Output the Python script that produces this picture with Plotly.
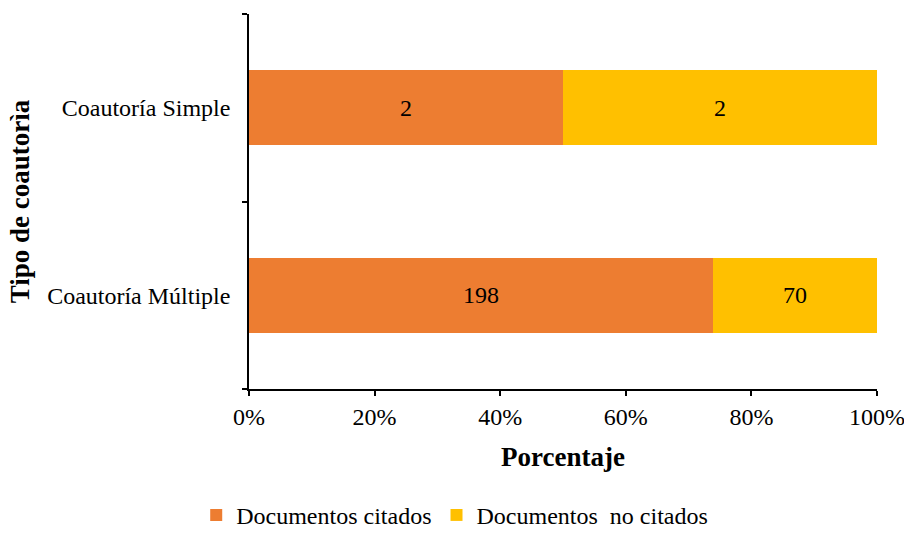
import plotly.graph_objects as go

# Co-authorship types (bottom to top) and document counts
categories = ["Coautoría Múltiple", "Coautoría Simple"]
citados = [198, 2]
no_citados = [70, 2]
x_ticks = [0, 20, 40, 60, 80, 100]
x_tick_labels = [f"{v}%" for v in x_ticks]

serif = "Liberation Serif"
fs = 24

fig = go.Figure()
fig.add_trace(go.Bar(
    y=categories, x=citados, orientation="h", name="Documentos citados",
    marker=dict(color="#ED7D31", line=dict(width=0)),
    text=citados, textposition="inside", insidetextanchor="middle",
    textfont=dict(family=serif, size=fs, color="black"),
    constraintext="none", hoverinfo="skip",
))
fig.add_trace(go.Bar(
    y=categories, x=no_citados, orientation="h", name="Documentos  no citados",
    marker=dict(color="#FFC000", line=dict(width=0)),
    text=no_citados, textposition="inside", insidetextanchor="middle",
    textfont=dict(family=serif, size=fs, color="black"),
    constraintext="none", hoverinfo="skip",
))

fig.update_layout(
    barmode="stack", barnorm="percent", bargap=0.6,
    width=904, height=534,
    margin=dict(l=249, r=27, t=14, b=145, autoexpand=False),
    plot_bgcolor="white", paper_bgcolor="white",
    font=dict(family=serif, size=fs, color="black"),
    showlegend=True,
    legend=dict(
        orientation="h", xref="container", yref="container",
        x=0.503, y=0.035, xanchor="center", yanchor="middle",
        font=dict(family=serif, size=fs, color="black"),
        itemwidth=30, traceorder="normal",
    ),
    xaxis=dict(
        range=[0, 100], tickvals=x_ticks, ticktext=x_tick_labels,
        ticklabeloverflow="allow",
        showgrid=False, zeroline=False,
        showline=True, linecolor="black", linewidth=1.5,
        ticks="outside", ticklen=5, tickcolor="black", tickwidth=1.5,
        tickfont=dict(family=serif, size=fs, color="black"),
        title=dict(text="<b>Porcentaje</b>", font=dict(family=serif, size=27, color="black"), standoff=19),
    ),
    yaxis=dict(
        type="category", range=[-0.5, 1.5], tickson="boundaries",
        showgrid=False, zeroline=False,
        showline=True, linecolor="black", linewidth=1.5,
        ticks="outside", ticklen=5, tickcolor="black", tickwidth=1.5,
        ticklabelstandoff=12,
        tickfont=dict(family=serif, size=fs, color="black"),
        title=dict(text="<b>Tipo de coautorìa</b>", font=dict(family=serif, size=27, color="black"), standoff=10),
    ),
)

fig.write_html("out.html")
